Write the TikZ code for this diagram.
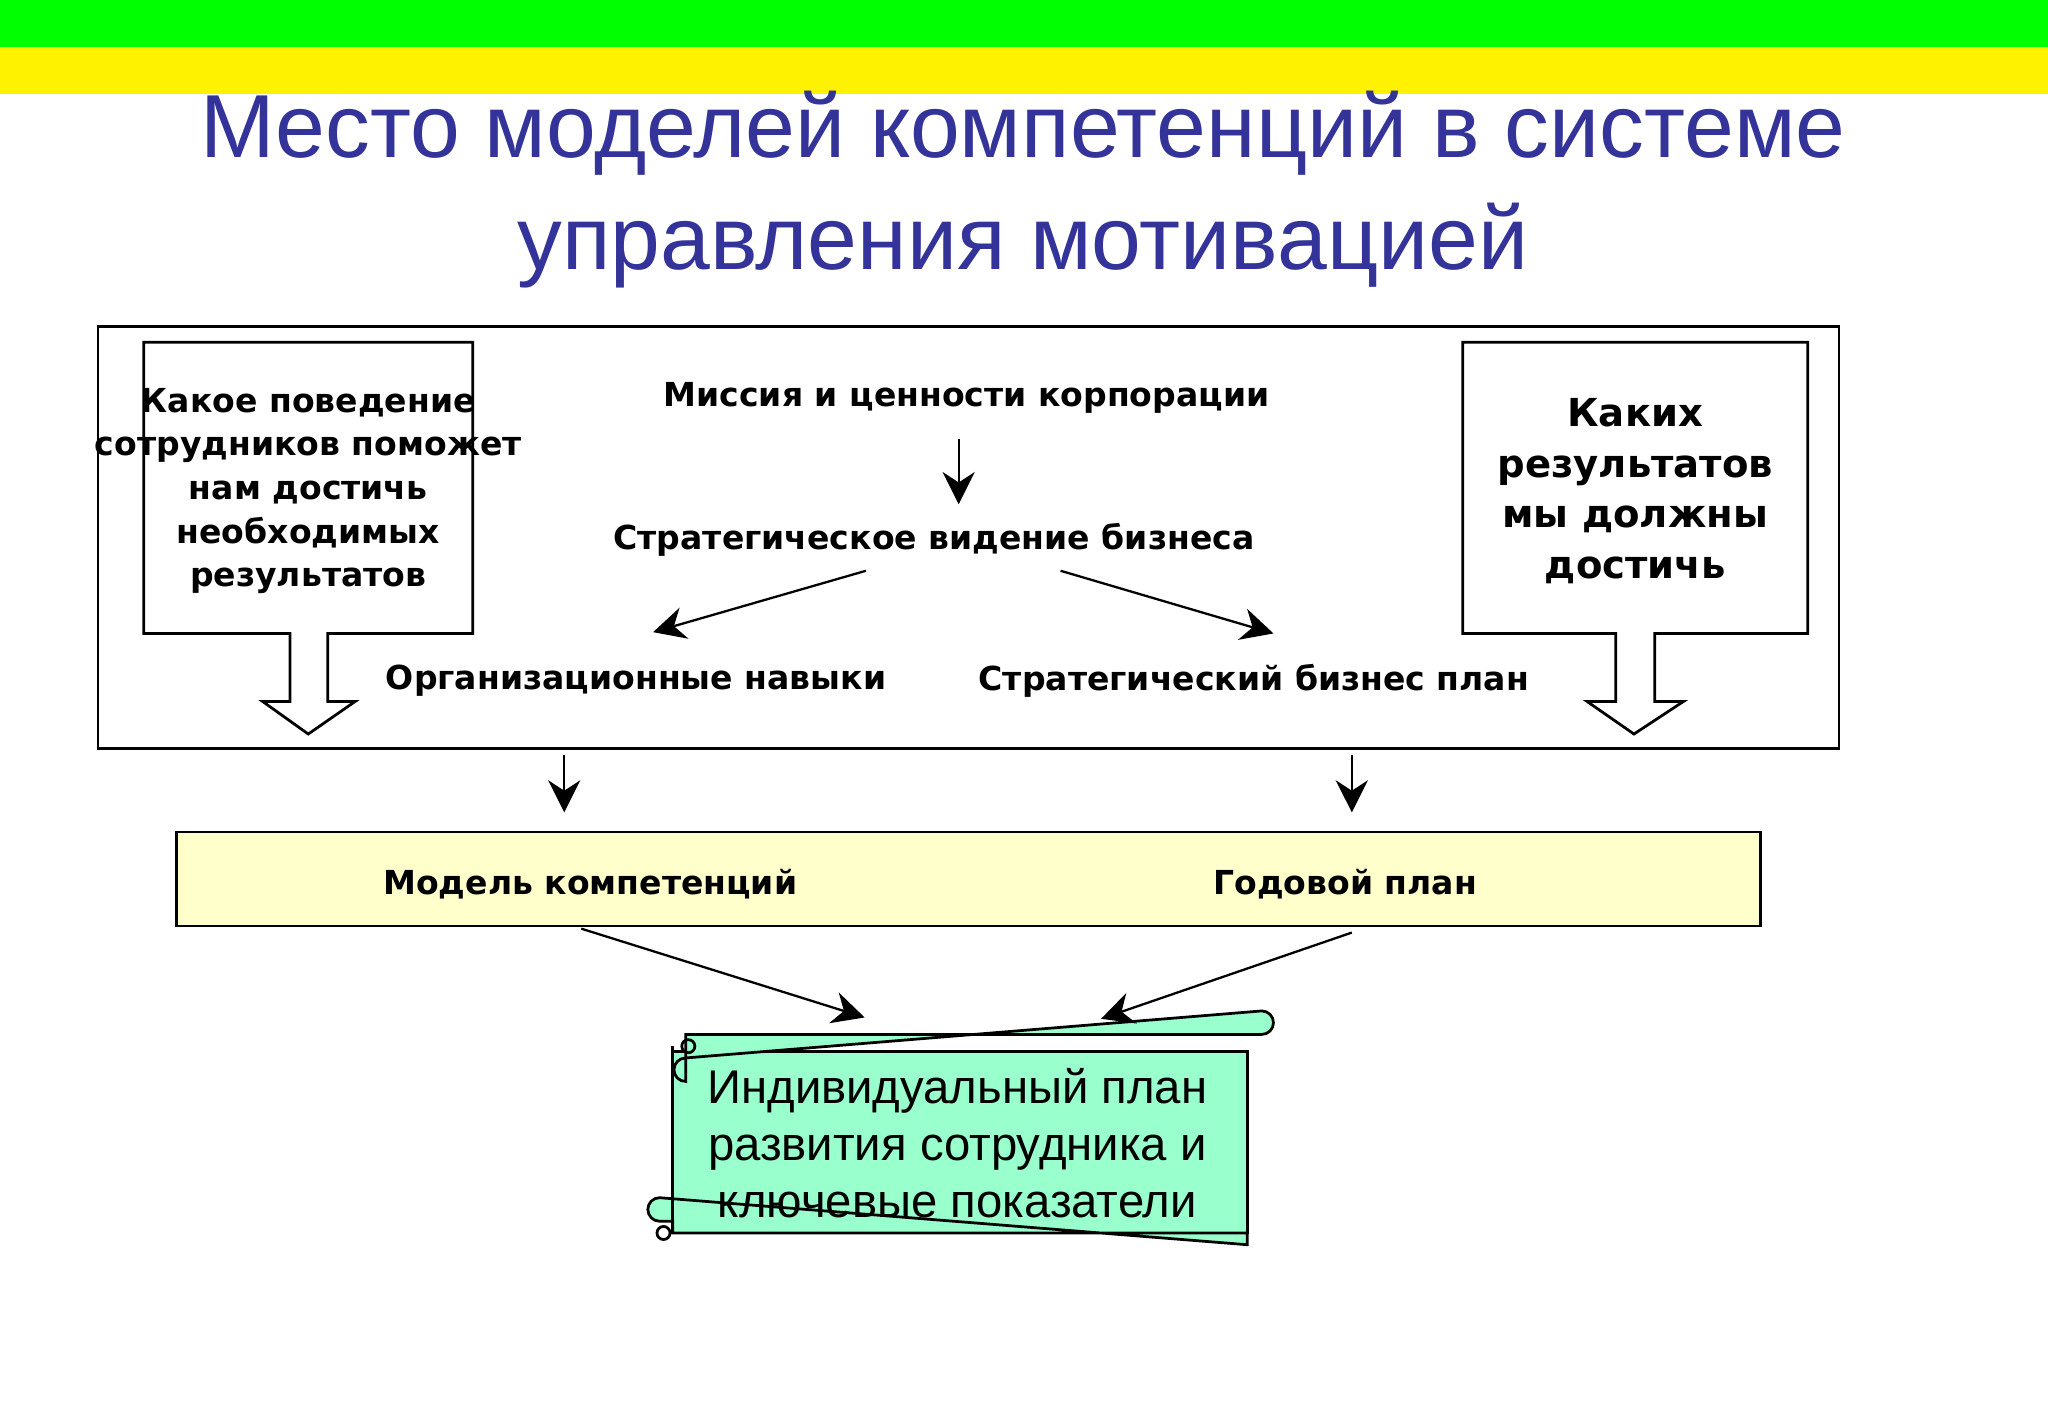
\documentclass[tikz,border=0pt]{standalone}
\usepackage{fontspec}
\setmainfont{DejaVu Sans}
\newfontfamily\titlefont{Liberation Sans}
\usetikzlibrary{arrows.meta}
\definecolor{titleblue}{RGB}{51,51,153}
\definecolor{paleyellow}{RGB}{255,255,204}
\definecolor{scrollgreen}{RGB}{153,255,204}
\tikzset{
 lbl/.style={font=\bfseries\fontsize{7.2}{9}\selectfont, align=center, inner sep=0pt},
 conn/.style={-{Stealth[length=7pt,width=7pt]}, line width=0.5pt},
 boxline/.style={draw=black, line width=0.6pt},
}
\begin{document}
\begin{tikzpicture}[x=0.1mm,y=-0.1mm]
\useasboundingbox (0,0) rectangle (1568,1082);
\fill[white] (0,0) rectangle (1568,1082);
\fill[green] (0,0) rectangle (1568,36);
\fill[yellow] (0,36) rectangle (1568,72);
\node[text=titleblue, font=\titlefont\fontsize{19.5}{24.5}\selectfont, align=center] (title) at (783,145) {Место моделей компетенций в системе\\управления мотивацией};
\draw[boxline] (75,250) rectangle (1408,573);
\draw[boxline, fill=white] (222,485) -- (110,485) -- (110,262) -- (362,262) -- (362,485) -- (251,485) -- (251,537) -- (272,537) -- (236,562) -- (201,537) -- (222,537) -- cycle;
\draw[boxline, fill=white] (1237,485) -- (1120,485) -- (1120,262) -- (1384,262) -- (1384,485) -- (1267,485) -- (1267,537) -- (1289,537) -- (1251,562) -- (1215,537) -- (1237,537) -- cycle;
\node[lbl, font=\bfseries\fontsize{7.2}{9.5}\selectfont] (lq) at (236,376) {Какое поведение\\сотрудников поможет\\нам достичь\\необходимых\\результатов};
\node[lbl, font=\bfseries\fontsize{8.4}{11}\selectfont] (rq) at (1252,376) {Каких\\результатов\\мы должны\\достичь};
\node[lbl] (mis) at (740,305) {Миссия и ценности корпорации};
\node[lbl] (vis) at (715,413) {Стратегическое видение бизнеса};
\node[lbl] (org) at (487,521) {Организационные навыки};
\node[lbl] (plan) at (960,521) {Стратегический бизнес план};
\draw[boxline, fill=paleyellow] (135,637) rectangle (1348,709);
\node[lbl] (mod) at (452,677) {Модель компетенций};
\node[lbl] (god) at (1030,677) {Годовой план};
% scroll
\draw[boxline, fill=scrollgreen] (515,805) rectangle (955,944);
\draw[boxline, fill=scrollgreen] (515,935) -- (505,935) arc (90:270:9) -- (955,953) -- (955,944) -- (515,944) -- cycle;
\draw[boxline] (508,944) circle (5);
\draw[boxline, fill=scrollgreen] (525,792) -- (966,792) arc (90:-90:9) -- (525,810) arc (270:90:9) -- cycle;
\draw[boxline] (527,801) circle (5);
\draw[boxline] (515,801) -- (515,944);
\node[font=\titlefont\fontsize{10.3}{12.4}\selectfont, align=center, inner sep=0pt] (ind) at (733,875) {Индивидуальный план\\развития сотрудника и\\ключевые показатели};
% connectors
\coordinate (a1s) at (734,336); \coordinate (a1e) at (734,386);
\coordinate (a2s) at (663,437); \coordinate (a2e) at (500,484);
\coordinate (a3s) at (812,437); \coordinate (a3e) at (975,485);
\coordinate (a4s) at (432,578); \coordinate (a4e) at (432,622);
\coordinate (a5s) at (1035,578); \coordinate (a5e) at (1035,622);
\coordinate (a6s) at (445,711); \coordinate (a6e) at (662,779);
\coordinate (a7s) at (1035,714); \coordinate (a7e) at (843,780);
\foreach \i in {1,...,7} {\draw[conn] (a\i s) -- (a\i e);}
\end{tikzpicture}
\end{document}
